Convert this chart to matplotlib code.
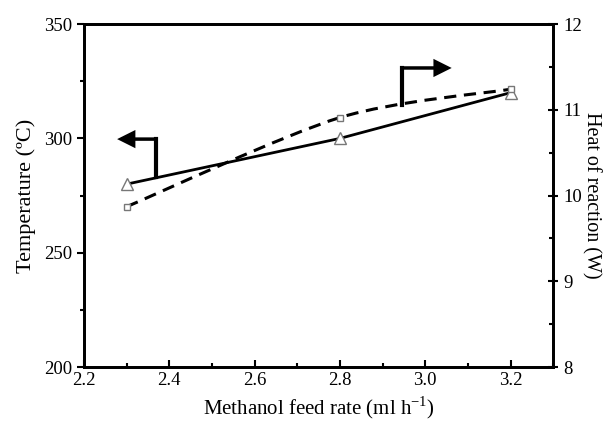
import matplotlib
matplotlib.use("Agg")
import matplotlib.pyplot as plt
import numpy as np
from matplotlib.path import Path
from matplotlib.patches import PathPatch
from matplotlib.ticker import MultipleLocator

plt.rcParams["font.family"] = ["Liberation Serif", "DejaVu Serif"]

feed_rate = [2.3, 2.8, 3.2]
temperature = [280, 300, 320]
heat = [9.87, 10.91, 11.24]

# left-pointing bracket arrow (temperature axis) and right-pointing one (heat axis)
left_arrow = {"x": 2.369, "y0": 283, "y1": 299.7, "tip": 2.278}
right_arrow = {"x": 2.946, "y0": 314.6, "y1": 330.8, "tip": 3.062}


def smooth_path(xs, ys, k=7.0):
    # Catmull-Rom style curve through the points, as cubic Bezier segments
    pts = np.column_stack([xs, ys])
    ext = np.vstack([pts[0], pts, pts[-1]])
    verts = [tuple(pts[0])]
    codes = [Path.MOVETO]
    for i in range(1, len(ext) - 2):
        p0, p1, p2, p3 = ext[i - 1], ext[i], ext[i + 1], ext[i + 2]
        c1 = p1 + (p2 - p0) / k
        c2 = p2 - (p3 - p1) / k
        verts += [tuple(c1), tuple(c2), tuple(p2)]
        codes += [Path.CURVE4] * 3
    return Path(verts, codes)


fig = plt.figure(figsize=(6.12, 4.22), dpi=100)
ax = fig.add_axes([0.137, 0.130, 0.767, 0.813])
ax2 = ax.twinx()

ax.plot(feed_rate, temperature, color="black", lw=2, zorder=2)
ax.plot(feed_rate, temperature, ls="none", marker="^", ms=8, mfc="white",
        mec="#777777", mew=1, zorder=3)

ax2.add_patch(PathPatch(smooth_path(feed_rate, heat), fill=False, ec="black",
                        lw=2.2, ls=(0, (4, 2.5)), zorder=2))
ax2.plot(feed_rate, heat, ls="none", marker="s", ms=5, mfc="white",
         mec="#777777", mew=1, zorder=3)

for a in (left_arrow, right_arrow):
    ax.plot([a["x"], a["x"]], [a["y0"], a["y1"]], color="black", lw=3,
            solid_capstyle="projecting")
    ax.annotate("", xy=(a["tip"], a["y1"]), xytext=(a["x"], a["y1"]),
                arrowprops=dict(arrowstyle="-|>,head_length=0.7,head_width=0.35",
                                mutation_scale=13, color="black", lw=2.5,
                                joinstyle="miter", capstyle="butt",
                                shrinkA=0, shrinkB=0))

ax.set_xlim(2.2, 3.3)
ax.set_ylim(200, 350)
ax2.set_ylim(8, 12)
ax.set_xticks([2.2, 2.4, 2.6, 2.8, 3.0, 3.2])
ax.set_xticklabels(["2.2", "2.4", "2.6", "2.8", "3.0", "3.2"])
ax.xaxis.set_minor_locator(MultipleLocator(0.1))
ax.yaxis.set_major_locator(MultipleLocator(50))
ax.yaxis.set_minor_locator(MultipleLocator(25))
ax2.yaxis.set_major_locator(MultipleLocator(1))
ax2.yaxis.set_minor_locator(MultipleLocator(0.5))

for a in (ax, ax2):
    for s in a.spines.values():
        s.set_linewidth(2)
    a.tick_params(which="major", direction="out", length=5, width=1.5,
                  labelsize=13.5)
    a.tick_params(which="minor", direction="out", length=3, width=1.5)
ax.tick_params(axis="x", which="both", direction="in")
ax2.tick_params(which="major", direction="inout", length=7)
ax2.tick_params(which="minor", direction="in")

ax.set_xlabel("Methanol feed rate (ml h$^{\\mathregular{-1}}$)", fontsize=15,
              labelpad=4)
ax.set_ylabel("Temperature (\u00baC)", fontsize=16, labelpad=6)
ax2.set_ylabel("Heat of reaction (W)", fontsize=14.5, rotation=270,
               labelpad=14)

fig.savefig("out.png", dpi=100)
